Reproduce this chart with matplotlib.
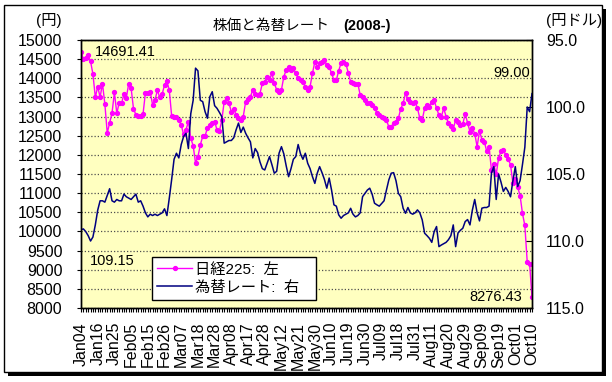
import numpy as np
import matplotlib
matplotlib.use('Agg')
import matplotlib.pyplot as plt
from matplotlib.patches import Rectangle
from matplotlib.lines import Line2D

# Latin -> Liberation Sans, Japanese -> Noto Sans CJK JP
matplotlib.rcParams['font.family'] = ['Liberation Sans', 'Noto Sans CJK JP']
matplotlib.rcParams['axes.unicode_minus'] = False

#######################################
# data (trading days 2008/01/04 - 2008/10/10)
#######################################
date_labels = ['Jan04', 'Jan16', 'Jan25', 'Feb05', 'Feb15', 'Feb26', 'Mar07',
               'Mar18', 'Mar28', 'Apr08', 'Apr17', 'Apr28', 'May12', 'May21',
               'May30', 'Jun10', 'Jun19', 'Jun30', 'Jul09', 'Jul18', 'Jul31',
               'Aug11', 'Aug20', 'Aug29', 'Sep09', 'Sep19', 'Oct01', 'Oct10']
label_step = 7

# 日経225 (円)
nikkei = [14691.41, 14500, 14528, 14599, 14443, 14110, 13504, 13783, 13504, 13861,
          13325, 12573, 12829, 13092, 13629, 13087, 13358, 13345, 13592, 13497,
          13859, 13745, 13205, 13048, 13017, 13021, 13068, 13626, 13622, 13648,
          13310, 13427, 13688, 13500, 13583, 13824, 13926, 13687, 13010, 12992,
          13000, 12900, 12782, 12532, 12658, 12861, 12433, 12241, 11787, 11950,
          12260, 12480, 12500, 12700, 12780, 12820, 12870, 12650, 12620, 12900,
          13390, 13480, 13350, 13129, 13200, 13042, 12955, 12912, 13000, 13390,
          13450, 13520, 13695, 13600, 13564, 13600, 13869, 13912, 14042, 13960,
          14130, 13870, 13700, 13651, 13700, 14042, 14217, 14304, 14220, 14260,
          14130, 14000, 13956, 13912, 13780, 13695, 13780, 14130, 14434, 14300,
          14400, 14434, 14478, 14340, 14300, 14130, 13950, 13950, 14200, 14400,
          14434, 14380, 14150, 13912, 13870, 13860, 13860, 13564, 13500, 13433,
          13347, 13350, 13300, 13216, 13100, 13042, 13000, 12955, 12900, 12737,
          12740, 12825, 12850, 12955, 13200, 13347, 13608, 13450, 13390, 13347,
          13390, 13216, 12955, 12912, 13216, 13300, 13260, 13390, 13430, 13216,
          13040, 12990, 13216, 13000, 12825, 12760, 12680, 12912, 12870, 12780,
          12800, 13073, 12834, 12609, 12689, 12557, 12212, 12624, 12400, 12346,
          12102, 12214, 11609, 11749, 11489, 11920, 12090, 12115, 12006, 11893,
          11743, 11259, 11368, 11154, 10938, 10473, 10155, 9203, 9157, 8276.43]

# 為替レート (円/ドル)
usdjpy = [109.15, 109.1, 109.3, 109.6, 110.0, 109.7, 108.8, 107.7, 107.0, 107.0,
          107.1, 106.6, 106.1, 107.0, 107.1, 106.9, 107.0, 107.0, 106.5, 106.7,
          106.8, 106.9, 106.7, 106.5, 107.1, 107.0, 107.4, 107.9, 108.2, 108.0,
          108.1, 108.0, 108.1, 108.0, 107.9, 107.6, 108.1, 106.8, 105.4, 103.9,
          103.45, 103.8, 102.8, 102.2, 101.96, 103.1, 100.5, 99.5, 97.1, 97.3,
          99.5, 99.6, 100.35, 100.84, 99.23, 98.86, 99.9, 100.1, 100.4, 100.72,
          102.7, 102.6, 102.5, 102.5, 102.3, 101.7, 101.2, 101.9, 101.5, 101.96,
          102.3, 102.6, 103.8, 103.1, 103.4, 104.1, 104.6, 104.7, 104.2, 103.7,
          104.3, 104.94, 104.8, 103.45, 102.96, 103.5, 104.4, 105.2, 104.6, 103.9,
          103.7, 102.8, 103.5, 103.9, 103.45, 104.2, 104.6, 105.2, 105.7, 104.94,
          104.45, 104.9, 105.4, 106.06, 105.3, 106.2, 107.3, 107.4, 108.05, 108.3,
          108.1, 108.0, 107.9, 107.56, 108.0, 108.2, 108.1, 107.9, 106.69, 106.44,
          106.2, 106.06, 106.5, 107.18, 107.3, 107.4, 107.2, 107.0, 106.2, 105.44,
          104.94, 104.9, 105.5, 106.44, 106.7, 107.56, 107.93, 107.5, 107.9, 108.0,
          107.9, 107.68, 107.9, 108.43, 109.42, 109.6, 109.8, 110.1, 109.3, 108.92,
          110.42, 110.3, 110.2, 110.1, 109.9, 109.6, 108.8, 110.42, 109.4, 109.2,
          109.05, 108.55, 108.4, 108.8, 107.7, 106.9, 107.9, 108.5, 107.55, 107.5,
          107.5, 107.4, 104.94, 104.45, 106.9, 105.0, 105.6, 106.3, 106.0, 106.3,
          106.7, 105.5, 104.45, 105.94, 105.5, 104.3, 103.0, 100.0, 100.35, 99.0]

nikkei_color = '#FF00FF'
rate_color = '#000080'

x = np.arange(len(nikkei))

W, H = 612, 382
fig = plt.figure(figsize=(W / 100, H / 100), dpi=100)

#######################################
# outer frame with shadow
#######################################
fig.add_artist(Rectangle((8 / W, 1 - 376 / H), 598 / W, 367 / H, transform=fig.transFigure,
                         facecolor='black', edgecolor='none', zorder=-3))
fig.add_artist(Rectangle((4 / W, 1 - 372 / H), 598 / W, 367 / H, transform=fig.transFigure,
                         facecolor='white', edgecolor='black', lw=1.0, zorder=-2))

#######################################
# main axes: 日経225 (left)
#######################################
ax = fig.add_axes([81 / W, 1 - 308 / H, 451 / W, 268 / H])
ax.set_facecolor('#FFFFC0')
ax.plot(x, nikkei, color=nikkei_color, lw=1.0, marker='o', ms=2.8,
        mec=nikkei_color, mfc=nikkei_color)
ax.set_xlim(0, len(x) - 1)
ax.set_ylim(8000, 15000)
ax.set_yticks(np.arange(8000, 15001, 500))
ax.yaxis.grid(True, linestyle=(0, (1, 1.6)), color='#505050', lw=0.9)
ax.set_axisbelow(True)
ax.set_xticks(x[::label_step])
ax.set_xticklabels(date_labels, rotation=90)
ax.set_xticks(x, minor=True)
ax.tick_params(axis='x', which='both', direction='out', length=3, width=0.8,
               labelsize=11.5, pad=7)
ax.tick_params(axis='y', direction='out', length=3, width=0.8, labelsize=11.5, pad=10.5)
for s in ax.spines.values():
    s.set_color('black')
    s.set_linewidth(1.0)

#######################################
# twin axes: 為替レート (right, inverted)
#######################################
ax2 = ax.twinx()
ax2.plot(x, usdjpy, color=rate_color, lw=1.1)
ax2.set_ylim(115, 95)
ax2.set_yticks([95, 100, 105, 110, 115])
ax2.set_yticklabels(['%.1f' % v for v in [95, 100, 105, 110, 115]])
ax2.tick_params(axis='y', direction='in', length=4, width=0.8, labelsize=11.5, pad=10)
for s in ax2.spines.values():
    s.set_color('black')
    s.set_linewidth(1.0)

# value labels at start / end
ax.annotate('%.2f' % nikkei[0], xy=(x[0], nikkei[0]), xytext=(10, 0),
            textcoords='offset points', ha='left', va='center', fontsize=10.5)
ax.annotate('%.2f' % nikkei[-1], xy=(x[-1], nikkei[-1]), xytext=(-7, 0),
            textcoords='offset points', ha='right', va='center', fontsize=10.5)
ax2.annotate('%.2f' % usdjpy[0], xy=(x[0], usdjpy[0]), xytext=(6.5, -22.5),
             textcoords='offset points', ha='left', va='center', fontsize=10.5)
ax2.annotate('%.2f' % usdjpy[-1], xy=(x[-1], usdjpy[-1]), xytext=(-1.5, 14.5),
             textcoords='offset points', ha='right', va='center', fontsize=10.5)

# legend
handles = [Line2D([], [], color=nikkei_color, lw=1.0, marker='o', ms=2.8),
           Line2D([], [], color=rate_color, lw=1.1)]
leg = ax2.legend(handles, ['日経225:  左', '為替レート:  右'], loc='lower left',
                 bbox_to_anchor=(0.157, 0.03, 0.364, 0.2), mode='expand',
                 numpoints=1, fontsize=11, frameon=True, fancybox=False,
                 edgecolor='black', framealpha=1, borderaxespad=0, borderpad=0.35,
                 labelspacing=0.25, handlelength=2.3, handletextpad=0.2)
leg.get_frame().set_linewidth(1.0)

#######################################
# titles and unit labels
#######################################
fig.text(213 / W, 1 - 26 / H, '株価と為替レート', ha='left', va='center', fontsize=10.5)
fig.text(343 / W, 1 - 26 / H, '(2008-)', ha='left', va='center', fontsize=10.5,
         fontweight='bold')
fig.text(62 / W, 1 - 21 / H, '(円)', ha='right', va='center', fontsize=11)
fig.text(546 / W, 1 - 20 / H, '(円ドル)', ha='left', va='center', fontsize=11)

plt.savefig('out.png', dpi=100)
